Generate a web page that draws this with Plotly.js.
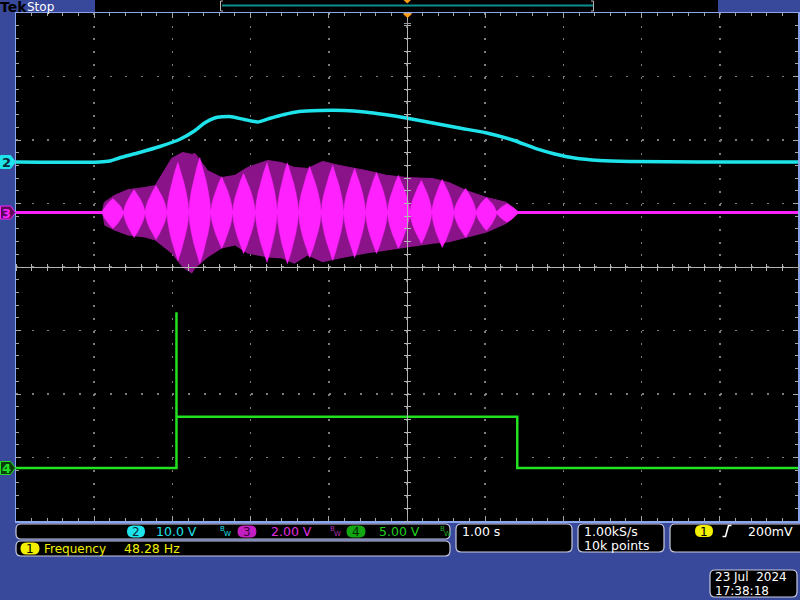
<!DOCTYPE html>
<html><head><meta charset="utf-8">
<script src="https://cdn.plot.ly/plotly-3.0.1.min.js"></script>
<style>html,body{margin:0;padding:0;background:#38489a;} #chart{width:800px;height:600px;}</style>
</head><body><div id="chart"></div>
<script>
// ---------- Data (time in s, values in V) ----------
const ch2T = [-5.00,-3.93,-3.80,-3.68,-3.42,-3.16,-2.91,-2.72,-2.59,-2.46,-2.27,-2.08,-1.91,-1.76,-1.57,-1.38,-1.12,-0.80,-0.54,-0.29,-0.01,0.33,0.67,1.02,1.35,1.66,1.89,2.14,2.46,2.85,3.74,5.00];
const ch2V = [0,0,0.16,0.63,1.50,2.44,3.54,4.88,6.14,6.93,7.17,6.69,6.30,6.85,7.48,7.95,8.11,8.11,7.87,7.48,6.93,6.14,5.35,4.57,3.46,2.05,1.26,0.63,0.24,0.08,0,0];

const ch3EnvT  = [-3.90,-3.87,-3.74,-3.57,-3.35,-3.22,-3.01,-2.87,-2.75,-2.71,-2.55,-2.37,-2.20,-2.04,-1.78,-1.60,-1.44,-1.27,-1.08,-0.86,-0.52,-0.26,0.00,0.33,0.54,0.76,1.02,1.27,1.44];
const ch3EnvHi = [0,0.32,0.54,0.72,0.79,0.85,1.70,1.89,1.83,1.86,1.32,1.10,1.17,1.42,1.64,1.57,1.42,1.39,1.61,1.48,1.32,1.17,1.10,1.07,0.94,0.69,0.47,0.32,0];
const ch3EnvLo = [0,-0.41,-0.57,-0.72,-0.79,-0.88,-1.29,-1.73,-1.92,-1.76,-1.42,-1.13,-1.04,-1.29,-1.42,-1.45,-1.61,-1.35,-1.57,-1.45,-1.29,-1.20,-1.10,-0.98,-0.94,-0.79,-0.63,-0.35,0];

const ch3LobeT  = [-3.76,-3.49,-3.21,-2.93,-2.65,-2.37,-2.09,-1.79,-1.53,-1.245,-0.95,-0.67,-0.39,-0.11,0.185,0.45,0.75,1.015,1.28];
const ch3LobeHi = [0.44,0.72,0.85,1.58,1.73,1.13,1.23,1.57,1.57,1.45,1.48,1.39,1.26,1.17,1.01,1.04,0.76,0.47,0.28];
const ch3LobeLo = [-0.50,-0.79,-0.85,-1.51,-1.61,-1.13,-1.29,-1.57,-1.61,-1.42,-1.51,-1.42,-1.29,-1.13,-0.98,-1.10,-0.79,-0.57,-0.31];

const ch4T = [-5, -2.948, -2.948, -2.948, 1.41, 1.41, 5];
const ch4V = [0, 0, 12.26, 4.04, 4.04, 0, 0];

// channel vertical scale (V/div) and position (div)
const chScale = {2: 10, 3: 2, 4: 5};
const chPos   = {2: 1.654, 3: 0.858, 4: -3.165};

const scaleLabels = ['10.0 V', '2.00 V', '5.00 V'];
const measLabel = 'Frequency', measValue = '48.28 Hz';
const timeLabel = '1.00 s', rateLabel = '1.00kS/s', recLabel = '10k points', trigLabel = '200mV';
const dateLabel = '23 Jul  2024', timeStamp = '17:38:18';

// ---------- style: outline template of one bright lobe (fractions of half-width / peak) ----------
const LOBE_W = [0, 0.3, 0.55, 0.76, 0.92, 1];
const LOBE_H = [1, 0.8, 0.6, 0.4, 0.2, 0];

// ---------- helpers ----------
const CY = '#1ee3ea', MAG = '#ff22ff', PUR = '#8a138a', GRN = '#22e022', YEL = '#f2f000';
const F = 'DejaVu Sans, sans-serif';
const toDiv = (v, ch) => chPos[ch] + v / chScale[ch];
const px = x => (x - 16) / 782;
const py = y => (521 - y) / 508;

function rr(x0, y0, x1, y1, r) {
  const P = (x, y) => px(x).toFixed(5) + ',' + py(y).toFixed(5);
  return 'M' + P(x0 + r, y0) + ' L' + P(x1 - r, y0) + ' Q' + P(x1, y0) + ' ' + P(x1, y0 + r) +
    ' L' + P(x1, y1 - r) + ' Q' + P(x1, y1) + ' ' + P(x1 - r, y1) +
    ' L' + P(x0 + r, y1) + ' Q' + P(x0, y1) + ' ' + P(x0, y1 - r) +
    ' L' + P(x0, y0 + r) + ' Q' + P(x0, y0) + ' ' + P(x0 + r, y0) + ' Z';
}
function pth(pts) {
  return pts.map((p, i) => (i ? 'L' : 'M') + px(p[0]).toFixed(5) + ',' + py(p[1]).toFixed(5)).join(' ');
}
const shapes = [], annotations = [];
function rect(x0, y0, x1, y1, fill) {
  shapes.push({type: 'rect', xref: 'paper', yref: 'paper', x0: px(x0), x1: px(x1), y0: py(y1), y1: py(y0),
    fillcolor: fill, line: {width: 0}, layer: 'below'});
}
function txt(x, y, s, color, size, extra) {
  annotations.push(Object.assign({xref: 'paper', yref: 'paper', x: px(x), y: py(y), text: s, showarrow: false,
    xanchor: 'left', yanchor: 'middle', borderpad: 0, font: {family: F, size: size || 12, color: color}}, extra || {}));
}
function pill(xc, yc, w, fill, label, tcolor) {
  shapes.push({type: 'path', xref: 'paper', yref: 'paper', path: rr(xc - w / 2, yc - 6, xc + w / 2, yc + 6, 6),
    fillcolor: fill, line: {width: 0}});
  txt(xc, yc + 0.5, label, tcolor || '#000', 12, {xanchor: 'center'});
}
function panel(x0, y0, x1, y1) {
  shapes.push({type: 'path', xref: 'paper', yref: 'paper', path: rr(x0, y0, x1, y1, 5),
    fillcolor: '#000', line: {color: '#c9cbe0', width: 1.2}});
}

// ---------- traces ----------
const traces = [];
traces.push({x: ch3EnvT, y: ch3EnvLo.map(v => toDiv(v, 3)), mode: 'lines', line: {width: 0, color: PUR}, hoverinfo: 'skip'});
traces.push({x: ch3EnvT, y: ch3EnvHi.map(v => toDiv(v, 3)), mode: 'lines', fill: 'tonexty', fillcolor: PUR, line: {width: 1, color: PUR}, hoverinfo: 'skip'});
traces.push({x: [-5, 5], y: [toDiv(0, 3), toDiv(0, 3)], mode: 'lines', line: {color: MAG, width: 3}});
const n = ch3LobeT.length;
ch3LobeT.forEach((c, i) => {
  const hwL = i > 0 ? (c - ch3LobeT[i - 1]) / 2 : (ch3LobeT[1] - c) / 2;
  const hwR = i < n - 1 ? (ch3LobeT[i + 1] - c) / 2 : (c - ch3LobeT[i - 1]) / 2;
  const hi = ch3LobeHi[i], lo = ch3LobeLo[i];
  const xs = [], ys = [];
  for (let k = 0; k < LOBE_W.length; k++) { xs.push(c + hwR * LOBE_W[k]); ys.push(toDiv(hi * LOBE_H[k], 3)); }
  for (let k = LOBE_W.length - 2; k >= 0; k--) { xs.push(c + hwR * LOBE_W[k]); ys.push(toDiv(lo * LOBE_H[k], 3)); }
  for (let k = 1; k < LOBE_W.length; k++) { xs.push(c - hwL * LOBE_W[k]); ys.push(toDiv(lo * LOBE_H[k], 3)); }
  for (let k = LOBE_W.length - 2; k >= 0; k--) { xs.push(c - hwL * LOBE_W[k]); ys.push(toDiv(hi * LOBE_H[k], 3)); }
  traces.push({x: xs, y: ys, mode: 'lines', line: {width: 0.5, color: MAG}, fill: 'toself', fillcolor: MAG, hoverinfo: 'skip'});
});
traces.push({x: ch2T, y: ch2V.map(v => toDiv(v, 2)), mode: 'lines', line: {color: CY, width: 3.5, shape: 'spline', smoothing: 0.6}});
traces.push({x: ch4T, y: ch4V.map(v => toDiv(v, 4)), mode: 'lines', line: {color: GRN, width: 2.5}});
traces.push({x: [], y: [], xaxis: 'x2', yaxis: 'y2', mode: 'lines'});
traces.push({x: [], y: [], xaxis: 'x3', yaxis: 'y3', mode: 'lines'});

// ---------- decorations ----------
rect(95, 0, 718, 12, '#000');
shapes.push({type: 'line', xref: 'paper', yref: 'paper', x0: px(222), x1: px(593), y0: py(5.5), y1: py(5.5), line: {color: '#0c8f8f', width: 2}});
shapes.push({type: 'path', xref: 'paper', yref: 'paper', path: pth([[223, 1], [220.5, 1], [220.5, 11], [223, 11]]), line: {color: '#b8b8b8', width: 1}});
shapes.push({type: 'path', xref: 'paper', yref: 'paper', path: pth([[591, 1], [593.5, 1], [593.5, 11], [591, 11]]), line: {color: '#b8b8b8', width: 1}});
shapes.push({type: 'path', xref: 'paper', yref: 'paper', path: pth([[403.5, 0], [411, 0], [407.3, 3.5]]) + ' Z', fillcolor: '#ff9d12', line: {width: 0}});
shapes.push({type: 'path', xref: 'paper', yref: 'paper', path: pth([[402.5, 13.5], [412.5, 13.5], [407.5, 18]]) + ' Z', fillcolor: '#ff9d12', line: {width: 0}});
shapes.push({type: 'path', xref: 'paper', yref: 'paper', path: pth([[404, 23.5], [411, 23.5]]) + ' ' + pth([[407.5, 20], [407.5, 27]]), line: {color: '#9a9a9a', width: 1}});
txt(-1, 6.5, 'Tek', '#000', 14, {font: {family: F, size: 14, color: '#000', weight: 'bold'}});
txt(26, 6.5, 'Stop', '#ffffff', 12);

function tag(ch, fill, stroke, tcolor) {
  const yc = 267 - chPos[ch] * 63.5;
  shapes.push({type: 'path', xref: 'paper', yref: 'paper',
    path: pth([[0.5, yc - 6.5], [10.5, yc - 6.5], [15.5, yc], [10.5, yc + 6.5], [0.5, yc + 6.5]]) + ' Z',
    fillcolor: fill, line: {color: stroke, width: 1}});
  txt(6.5, yc + 0.5, String(ch), tcolor, 13, {xanchor: 'center', font: {family: F, size: 13, color: tcolor, weight: 'bold'}});
}
tag(2, CY, CY, '#062a3a');
tag(3, '#5a0a5a', MAG, MAG);
tag(4, '#0b3d0b', GRN, GRN);

panel(16, 524, 450, 539);
panel(16, 541, 450, 556);
panel(456, 524, 572, 552);
panel(578, 524, 664, 552);
panel(670, 524, 810, 552);
panel(710, 570, 797, 597);

pill(136, 531.5, 18, CY, '2', '#062a3a');
txt(155, 531.5, scaleLabels[0], CY, 12.5);
pill(247, 531.5, 19, '#c21ec2', '3', '#3a003a');
txt(270, 531.5, scaleLabels[1], '#e02ee0', 12.5);
pill(356, 531.5, 19, '#13a613', '4', '#002a00');
txt(378, 531.5, scaleLabels[2], '#1ed01e', 12.5);
[[221, CY], [331, '#b030b0'], [441, '#20b020']].forEach(b => {
  txt(b[0] - 2, 529, 'B', b[1], 7);
  txt(b[0] + 2, 533.5, 'W', b[1], 7);
});

pill(30, 548.5, 19, YEL, '1');
txt(43, 548.5, measLabel, YEL);
txt(123, 548.5, measValue, YEL, 12.5);

txt(461, 531, timeLabel, '#ffffff', 12.5);
txt(583, 531, rateLabel, '#ffffff', 12.5);
txt(583, 545, recLabel, '#ffffff', 12.5);
pill(704, 531, 18, YEL, '1');
shapes.push({type: 'path', xref: 'paper', yref: 'paper', path: pth([[722.5, 536.5], [725.5, 536.5], [728.5, 525.5], [731.5, 525.5]]), line: {color: '#ffffff', width: 1.6}});
txt(747, 531, trigLabel, '#ffffff', 12.5);
txt(714, 577, dateLabel, '#ffffff', 12);
txt(714, 591, timeStamp, '#ffffff', 12);

// ---------- layout ----------
const FRAME = '#8aa7ee', TICK = '#a6a6a6', GRID = '#7c7c7c';
const baseAx = {showticklabels: false, zeroline: false, fixedrange: true};
const layout = {
  width: 800, height: 600,
  margin: {l: 16, r: 2, t: 13, b: 79, pad: 0},
  paper_bgcolor: '#38489a', plot_bgcolor: '#000000',
  showlegend: false, hovermode: false,
  xaxis: Object.assign({}, baseAx, {range: [-5, 5], dtick: 1, tick0: 0, showgrid: true, gridcolor: GRID, gridwidth: 1.5,
    griddash: '2px,10.7px', showline: true, linecolor: FRAME, linewidth: 1.5, mirror: 'allticks',
    ticks: 'inside', ticklen: 5, tickcolor: TICK, tickwidth: 1,
    minor: {dtick: 0.2, tick0: 0, ticks: 'inside', ticklen: 3, tickcolor: TICK, tickwidth: 1, showgrid: false}}),
  yaxis: Object.assign({}, baseAx, {range: [-4, 4], dtick: 1, tick0: 0, showgrid: true, gridcolor: GRID, gridwidth: 1.5,
    griddash: '2px,13.64px', showline: true, linecolor: FRAME, linewidth: 1.5, mirror: 'allticks',
    ticks: 'inside', ticklen: 5, tickcolor: TICK, tickwidth: 1,
    minor: {dtick: 0.2, tick0: 0, ticks: 'inside', ticklen: 3, tickcolor: TICK, tickwidth: 1, showgrid: false}}),
  xaxis2: Object.assign({}, baseAx, {overlaying: 'x', anchor: 'free', position: 0.5, range: [-5, 5], side: 'bottom',
    showgrid: false, showline: true, linecolor: '#b4b4b4', linewidth: 1, ticks: 'outside', ticklen: 3, dtick: 0.2, tick0: 0, tickcolor: '#b4b4b4'}),
  xaxis3: Object.assign({}, baseAx, {overlaying: 'x', anchor: 'free', position: 0.5, range: [-5, 5], side: 'top',
    showgrid: false, showline: false, ticks: 'outside', ticklen: 3, dtick: 0.2, tick0: 0, tickcolor: '#b4b4b4'}),
  yaxis2: Object.assign({}, baseAx, {overlaying: 'y', anchor: 'free', position: 0.5, range: [-4, 4], side: 'left',
    showgrid: false, showline: true, linecolor: '#b4b4b4', linewidth: 1, ticks: 'outside', ticklen: 3, dtick: 0.2, tick0: 0, tickcolor: '#b4b4b4'}),
  yaxis3: Object.assign({}, baseAx, {overlaying: 'y', anchor: 'free', position: 0.5, range: [-4, 4], side: 'right',
    showgrid: false, showline: false, ticks: 'outside', ticklen: 3, dtick: 0.2, tick0: 0, tickcolor: '#b4b4b4'}),
  shapes: shapes,
  annotations: annotations
};
Plotly.newPlot('chart', traces, layout, {staticPlot: true, displayModeBar: false});
</script></body></html>
